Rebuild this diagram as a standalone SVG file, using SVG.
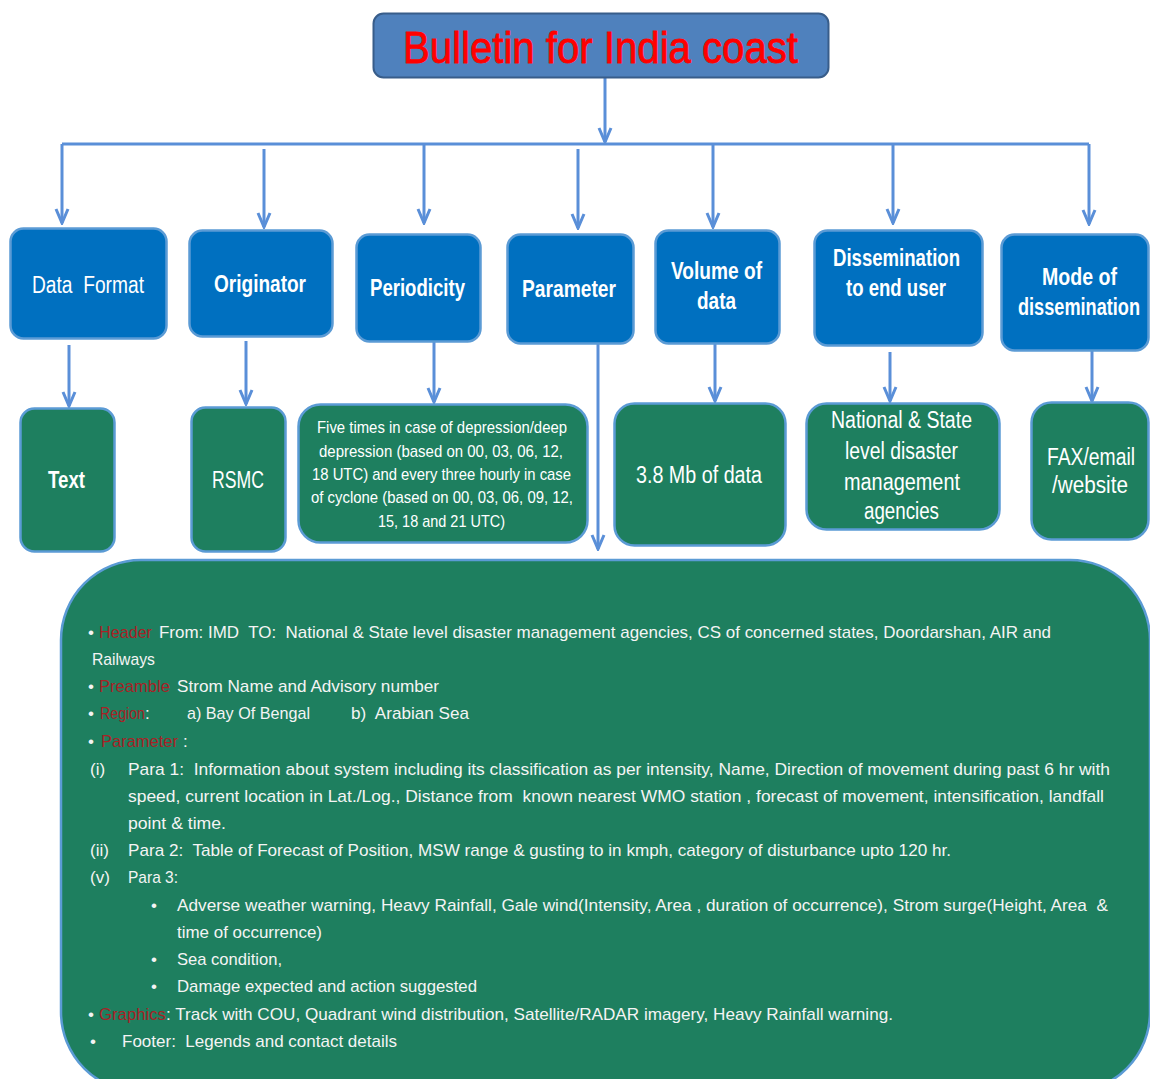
<svg xmlns="http://www.w3.org/2000/svg" width="1150" height="1079" viewBox="0 0 1150 1079">
<style>
.t{font-family:"Liberation Sans",Arial,sans-serif;}
.blue{fill:#0070c0;stroke:#5b9bd5;stroke-width:2.5;}
.green{fill:#1e7f5f;stroke:#5b9bd5;stroke-width:2.5;}
.lbl{font-family:"Liberation Sans",Arial,sans-serif;fill:#ffffff;font-size:23px;}
.b{font-weight:bold;}
.body{font-family:"Liberation Sans",Arial,sans-serif;fill:#f4f4f4;font-size:17px;}
.red{fill:#a82226;}
.con{fill:none;stroke:#5a8fd8;stroke-width:3;}
</style>
<defs>
<marker id="ah" markerUnits="userSpaceOnUse" viewBox="-17 -9 19 18" refX="0" refY="0" markerWidth="19" markerHeight="18" orient="auto">
<path d="M-14,-6 L0,0 L-14,6" fill="none" stroke="#5a8fd8" stroke-width="3" stroke-linejoin="miter"/>
</marker>
</defs>
<rect width="1150" height="1079" fill="#ffffff"/>

<g id="connectors">
<path class="con" d="M605,78 V142" marker-end="url(#ah)"/>
<path class="con" d="M62,144 H1089" stroke-width="3.5"/>
<path class="con" d="M62,144 V223" marker-end="url(#ah)"/>
<path class="con" d="M264,149 V227" marker-end="url(#ah)"/>
<path class="con" d="M424,144 V223" marker-end="url(#ah)"/>
<path class="con" d="M578,149 V228" marker-end="url(#ah)"/>
<path class="con" d="M713,144 V227" marker-end="url(#ah)"/>
<path class="con" d="M893,144 V223" marker-end="url(#ah)"/>
<path class="con" d="M1089,144 V224" marker-end="url(#ah)"/>
<path class="con" d="M69,345 V406" marker-end="url(#ah)"/>
<path class="con" d="M246,341 V404" marker-end="url(#ah)"/>
<path class="con" d="M434,342 V402" marker-end="url(#ah)"/>
<path class="con" d="M598,344 V549" marker-end="url(#ah)"/>
<path class="con" d="M715,344 V401" marker-end="url(#ah)"/>
<path class="con" d="M890,352 V401" marker-end="url(#ah)"/>
<path class="con" d="M1092,351 V401" marker-end="url(#ah)"/>
</g>

<g id="title">
<rect x="373.5" y="13.5" width="455" height="64" rx="10" fill="#4f81bd" stroke="#385d8a" stroke-width="2"/>
<text class="t" x="403" y="63" font-size="44" fill="#ff0000" stroke="#ff0000" stroke-width="0.8" textLength="395" lengthAdjust="spacingAndGlyphs">Bulletin for India coast</text>
</g>

<g id="data-format">
<rect class="blue" x="10.5" y="228.5" width="156" height="110" rx="13"/>
<text class="lbl" x="32" y="293" textLength="112" lengthAdjust="spacingAndGlyphs" xml:space="preserve">Data  Format</text>
</g>
<g id="originator">
<rect class="blue" x="189.5" y="230.5" width="143" height="106" rx="13"/>
<text class="lbl b" x="214" y="292" textLength="92" lengthAdjust="spacingAndGlyphs">Originator</text>
</g>
<g id="periodicity">
<rect class="blue" x="356.5" y="234.5" width="124" height="107" rx="13"/>
<text class="lbl b" x="370" y="296" textLength="95" lengthAdjust="spacingAndGlyphs">Periodicity</text>
</g>
<g id="parameter">
<rect class="blue" x="507.5" y="234.5" width="126" height="109" rx="13"/>
<text class="lbl b" x="522" y="297" textLength="94" lengthAdjust="spacingAndGlyphs">Parameter</text>
</g>
<g id="volume">
<rect class="blue" x="655.5" y="230.5" width="124" height="113" rx="13"/>
<text class="lbl b" x="671" y="279" textLength="91" lengthAdjust="spacingAndGlyphs">Volume of</text>
<text class="lbl b" x="697" y="309" textLength="39" lengthAdjust="spacingAndGlyphs">data</text>
</g>
<g id="dissemination">
<rect class="blue" x="814.5" y="230.5" width="168" height="115" rx="13"/>
<text class="lbl b" x="833" y="266" textLength="127" lengthAdjust="spacingAndGlyphs">Dissemination</text>
<text class="lbl b" x="846" y="296" textLength="100" lengthAdjust="spacingAndGlyphs">to end user</text>
</g>
<g id="mode">
<rect class="blue" x="1001.5" y="234.5" width="147" height="116" rx="13"/>
<text class="lbl b" x="1042" y="285" textLength="75" lengthAdjust="spacingAndGlyphs">Mode of</text>
<text class="lbl b" x="1140" y="315" text-anchor="end" textLength="122" lengthAdjust="spacingAndGlyphs">dissemination</text>
</g>

<g id="text-box">
<rect class="green" x="20.5" y="408.5" width="94" height="143" rx="14"/>
<text class="lbl b" x="48" y="488" textLength="37" lengthAdjust="spacingAndGlyphs">Text</text>
</g>
<g id="rsmc">
<rect class="green" x="191.5" y="407.5" width="94" height="144" rx="14"/>
<text class="lbl" x="212" y="488" textLength="52" lengthAdjust="spacingAndGlyphs">RSMC</text>
</g>
<g id="periodicity-detail">
<rect class="green" x="298.5" y="404.5" width="289" height="138" rx="22"/>
<text class="t" font-size="17" fill="#ffffff" x="317" y="433" textLength="250" lengthAdjust="spacingAndGlyphs">Five times in case of depression/deep</text>
<text class="t" font-size="17" fill="#ffffff" x="319" y="457" textLength="244" lengthAdjust="spacingAndGlyphs">depression (based on 00, 03, 06, 12,</text>
<text class="t" font-size="17" fill="#ffffff" x="312" y="480" textLength="259" lengthAdjust="spacingAndGlyphs">18 UTC) and every three hourly in case</text>
<text class="t" font-size="17" fill="#ffffff" x="311" y="503" textLength="262" lengthAdjust="spacingAndGlyphs">of cyclone (based on 00, 03, 06, 09, 12,</text>
<text class="t" font-size="17" fill="#ffffff" x="378" y="527" textLength="127" lengthAdjust="spacingAndGlyphs">15, 18 and 21 UTC)</text>
</g>
<g id="volume-detail">
<rect class="green" x="614.5" y="403.5" width="171" height="142" rx="20"/>
<text class="lbl" x="636" y="483" textLength="126" lengthAdjust="spacingAndGlyphs">3.8 Mb of data</text>
</g>
<g id="dissemination-detail">
<rect class="green" x="806.5" y="403.5" width="193" height="126" rx="20"/>
<text class="lbl" x="831" y="428" textLength="141" lengthAdjust="spacingAndGlyphs">National &amp; State</text>
<text class="lbl" x="845" y="459" textLength="113" lengthAdjust="spacingAndGlyphs">level disaster</text>
<text class="lbl" x="844" y="490" textLength="116" lengthAdjust="spacingAndGlyphs">management</text>
<text class="lbl" x="864" y="519" textLength="75" lengthAdjust="spacingAndGlyphs">agencies</text>
</g>
<g id="mode-detail">
<rect class="green" x="1031.5" y="402.5" width="117" height="137" rx="20"/>
<text class="lbl" x="1047" y="465" textLength="88" lengthAdjust="spacingAndGlyphs">FAX/email</text>
<text class="lbl" x="1052" y="493" textLength="76" lengthAdjust="spacingAndGlyphs">/website</text>
</g>

<g id="parameter-detail">
<rect class="green" x="61" y="560" width="1089" height="532" rx="80"/>
<text class="body" x="88" y="638">•</text>
<text class="body red" x="99" y="638" textLength="53" lengthAdjust="spacingAndGlyphs">Header</text>
<text class="body" x="159" y="638" textLength="892" lengthAdjust="spacingAndGlyphs" xml:space="preserve">From: IMD  TO:  National &amp; State level disaster management agencies, CS of concerned states, Doordarshan, AIR and</text>
<text class="body" x="92" y="665" textLength="63" lengthAdjust="spacingAndGlyphs">Railways</text>
<text class="body" x="88" y="692">•</text>
<text class="body red" x="99" y="692" textLength="71" lengthAdjust="spacingAndGlyphs">Preamble</text>
<text class="body" x="177" y="692" textLength="262" lengthAdjust="spacingAndGlyphs">Strom Name and Advisory number</text>
<text class="body" x="88" y="719">•</text>
<text class="body" x="100" y="719"><tspan class="red" textLength="45" lengthAdjust="spacingAndGlyphs">Region</tspan><tspan>:</tspan></text>
<text class="body" x="187" y="719" textLength="123" lengthAdjust="spacingAndGlyphs">a) Bay Of Bengal</text>
<text class="body" x="351" y="719" textLength="118" lengthAdjust="spacingAndGlyphs" xml:space="preserve">b)  Arabian Sea</text>
<text class="body" x="88" y="747">•</text>
<text class="body red" x="101" y="747" textLength="77" lengthAdjust="spacingAndGlyphs">Parameter</text>
<text class="body" x="183" y="747">:</text>
<text class="body" x="90" y="775">(i)</text>
<text class="body" x="128" y="775" textLength="982" lengthAdjust="spacingAndGlyphs" xml:space="preserve">Para 1:  Information about system including its classification as per intensity, Name, Direction of movement during past 6 hr with</text>
<text class="body" x="128" y="802" textLength="976" lengthAdjust="spacingAndGlyphs" xml:space="preserve">speed, current location in Lat./Log., Distance from  known nearest WMO station , forecast of movement, intensification, landfall</text>
<text class="body" x="128" y="829" textLength="98" lengthAdjust="spacingAndGlyphs">point &amp; time.</text>
<text class="body" x="90" y="856">(ii)</text>
<text class="body" x="128" y="856" textLength="823" lengthAdjust="spacingAndGlyphs" xml:space="preserve">Para 2:  Table of Forecast of Position, MSW range &amp; gusting to in kmph, category of disturbance upto 120 hr.</text>
<text class="body" x="90" y="883">(v)</text>
<text class="body" x="128" y="883" textLength="50" lengthAdjust="spacingAndGlyphs">Para 3:</text>
<text class="body" x="151" y="911">•</text>
<text class="body" x="177" y="911" textLength="931" lengthAdjust="spacingAndGlyphs" xml:space="preserve">Adverse weather warning, Heavy Rainfall, Gale wind(Intensity, Area , duration of occurrence), Strom surge(Height, Area  &amp;</text>
<text class="body" x="177" y="938" textLength="145" lengthAdjust="spacingAndGlyphs">time of occurrence)</text>
<text class="body" x="151" y="965">•</text>
<text class="body" x="177" y="965" textLength="105" lengthAdjust="spacingAndGlyphs">Sea condition,</text>
<text class="body" x="151" y="992">•</text>
<text class="body" x="177" y="992" textLength="300" lengthAdjust="spacingAndGlyphs">Damage expected and action suggested</text>
<text class="body" x="88" y="1020">•</text>
<text class="body red" x="99" y="1020" textLength="67" lengthAdjust="spacingAndGlyphs">Graphics</text>
<text class="body" x="166" y="1020" textLength="727" lengthAdjust="spacingAndGlyphs">: Track with COU, Quadrant wind distribution, Satellite/RADAR imagery, Heavy Rainfall warning.</text>
<text class="body" x="90" y="1047">•</text>
<text class="body" x="122" y="1047" textLength="275" lengthAdjust="spacingAndGlyphs" xml:space="preserve">Footer:  Legends and contact details</text>
</g>
</svg>
